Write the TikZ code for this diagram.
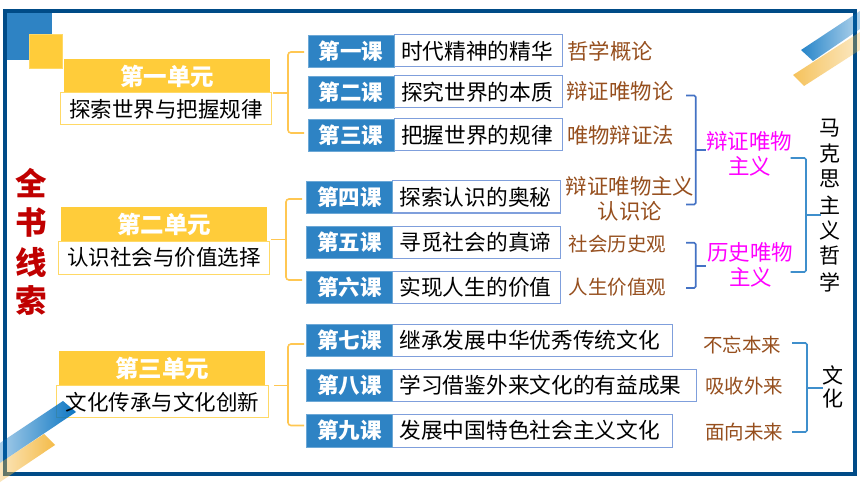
\documentclass[tikz,border=0pt]{standalone}
\usepackage{fontspec}
\setmainfont{Noto Sans CJK SC}
\usetikzlibrary{fadings}
\definecolor{frameblue}{HTML}{004B87}
\definecolor{lessonblue}{HTML}{2E83C4}
\definecolor{unityellow}{HTML}{FFCC3A}
\definecolor{edgeyellow}{HTML}{FFD966}
\definecolor{edgeblue}{HTML}{7F9FDC}
\definecolor{brownt}{HTML}{964F1E}
\definecolor{darkred}{HTML}{C00000}
\definecolor{bracketA}{HTML}{4472C4}
\definecolor{bracketB}{HTML}{3F8FCC}
\definecolor{stripblue}{HTML}{0070C0}
\definecolor{stripyellow}{HTML}{F4B83F}
\definecolor{puremagenta}{HTML}{FF00FF}
\tikzfading[name=fadeeast,left color=transparent!15,right color=transparent!70]
\tikzfading[name=fadewest,right color=transparent!5,left color=transparent!65]
\newcommand{\fs}[1]{\fontsize{#1}{#1}\selectfont}
\tikzset{
  x=1pt,y=-1pt,
  every node/.style={inner sep=0pt,outer sep=0pt},
  bluehead/.style={fill=lessonblue,draw=lessonblue!70!white,line width=.6pt,text=white,font=\fs{21.5}\bfseries},
  whitebody/.style={fill=white,draw=edgeblue,line width=1pt,text=black,font=\fs{21.7},align=left},
  unithead/.style={fill=unityellow,text=white,font=\fs{23.5}\bfseries},
  unitbody/.style={fill=white,draw=edgeyellow,line width=1pt,text=black,font=\fs{21.5}},
  browntext/.style={text=brownt,font=\fs{21.4},align=center},
  brownmid/.style={text=brownt,font=\fs{19.5},align=center},
  brownsmall/.style={text=brownt,font=\fs{19.5},align=center},
  magentatext/.style={text=puremagenta,font=\fs{21.5},align=center},
  sidetext/.style={text=black,font=\fs{21},align=center},
  redtext/.style={text=darkred,font=\fs{31.5}\bfseries},
  ybrack/.style={draw=edgeyellow!80!orange,line width=1.6pt,rounded corners=3pt},
  abrack/.style={draw=bracketA,line width=1.6pt,rounded corners=1.5pt},
  bbrack/.style={draw=bracketB,line width=1.6pt,rounded corners=1.5pt},
}
% name, xl, xm, xr, yt, yb, head, body
\newcommand{\lesson}[8]{%
  \pgfmathsetmacro{\hcx}{(#2+#3)/2}\pgfmathsetmacro{\hw}{#3-#2}
  \pgfmathsetmacro{\bcx}{(#3+#4)/2}\pgfmathsetmacro{\bw}{#4-#3}
  \pgfmathsetmacro{\cy}{(#5+#6)/2}\pgfmathsetmacro{\hh}{#6-#5}
  \node[whitebody,text width=\bw pt,minimum height=\hh pt] (#1b) at (\bcx,\cy) {\hspace*{7pt}\raisebox{-1.5pt}{#8}};
  \node[bluehead,minimum width=\hw pt,minimum height=\hh pt] (#1h) at (\hcx,\cy) {\raisebox{-1.5pt}{#7}};
}
\begin{document}
\begin{tikzpicture}
\useasboundingbox (0,0) rectangle (860,484);
\fill[white] (0,0) rectangle (860,484);
\draw[frameblue,line width=4pt] (5,11) rectangle (855,473.5);
% corner squares
\fill[lessonblue] (7,13) rectangle (52,60);
\fill[unityellow,draw=edgeyellow,line width=.6pt] (29,34) rectangle (62,68);

% unit 1
\node[unithead,minimum width=206pt,minimum height=34pt] (u1h) at (167,76) {\raisebox{-.7pt}{第一单元}};
\node[unitbody,minimum width=211.5pt,minimum height=32pt] (u1b) at (166.2,109) {\raisebox{-1.5pt}{探索世界与把握规律}};
% unit 2
\node[unithead,minimum width=206pt,minimum height=34pt] (u2h) at (164,224) {\raisebox{-.7pt}{第二单元}};
\node[unitbody,minimum width=211.5pt,minimum height=33pt] (u2b) at (164.2,257.5) {\raisebox{-1pt}{认识社会与价值选择}};
% unit 3
\node[unithead,minimum width=206pt,minimum height=34pt] (u3h) at (162,368) {\raisebox{-.7pt}{第三单元}};
\node[unitbody,minimum width=212pt,minimum height=32pt] (u3b) at (162,401) {};

% ribbons, top right
\fill[stripblue,path fading=fadeeast] (801,50) -- (813,61) -- (860,29) -- (860,11) -- cycle;
\fill[stripyellow,path fading=fadeeast] (793,75) -- (804,86) -- (860,50) -- (860,32) -- cycle;
% ribbons, bottom left
\fill[stripblue,path fading=fadewest] (63,401) -- (76,412) -- (0,463) -- (0,443) -- cycle;
\fill[stripyellow,path fading=fadewest] (44,434) -- (55,445) -- (0,482) -- (0,463) -- cycle;
\node[text=black,font=\fs{21.5}] (u3t) at (162.5,402.5) {文化传承与文化创新};

% lessons
\lesson{l1}{308}{394}{562}{35}{67}{第一课}{时代精神的精华}
\lesson{l2}{308}{394}{562}{76}{108}{第二课}{探究世界的本质}
\lesson{l3}{308}{394}{562}{119}{151}{第三课}{把握世界的规律}
\lesson{l4}{306.7}{392.5}{560}{181}{213}{第四课}{探索认识的奥秘}
\lesson{l5}{306.7}{392.5}{560}{226}{258}{第五课}{寻觅社会的真谛}
\lesson{l6}{306.7}{392.5}{560}{271}{303}{第六课}{实现人生的价值}
\lesson{l7}{306.7}{392.5}{672}{324}{356}{第七课}{继承发展中华优秀传统文化}
\lesson{l8}{306.7}{392.5}{696}{369}{401}{第八课}{学习借鉴外来文化的有益成果}
\lesson{l9}{306.7}{392.5}{672}{414}{447}{第九课}{发展中国特色社会主义文化}

% yellow brackets
\coordinate (y1t) at (304,52); \coordinate (y1b) at (304,133); \coordinate (y1s) at (273,93);
\draw[ybrack] (y1t) -- (288,52) -- (288,133) -- (y1b);
\draw[ybrack] (y1s) -- (288,93);
\coordinate (y2t) at (302,199); \coordinate (y2b) at (302,280); \coordinate (y2s) at (271,239.5);
\draw[ybrack] (y2t) -- (286,199) -- (286,280) -- (y2b);
\draw[ybrack] (y2s) -- (286,239.5);
\coordinate (y3t) at (304,344); \coordinate (y3b) at (304,425.5); \coordinate (y3s) at (274,385.5);
\draw[ybrack] (y3t) -- (288,344) -- (288,425.5) -- (y3b);
\draw[ybrack] (y3s) -- (288,385.5);

% brown labels
\node[browntext] (t1) at (610,51.5) {哲学概论};
\node[browntext] (t2) at (620,91.5) {辩证唯物论};
\node[browntext] (t3) at (620.5,135.5) {唯物辩证法};
\node[browntext] (t4) at (630,186) {辩证唯物主义};
\node[browntext] (t4b) at (630,211) {认识论};
\node[brownmid] (t5) at (617.5,244) {社会历史观};
\node[brownmid] (t6) at (617.5,287.5) {人生价值观};
\node[brownsmall] (t7) at (742,345) {不忘本来};
\node[brownsmall] (t8) at (744,386) {吸收外来};
\node[brownsmall] (t9) at (744,432.5) {面向未来};

% magenta labels
\node[magentatext] (m1) at (749,141.5) {辩证唯物};
\node[magentatext] (m1b) at (749.5,166) {主义};
\node[magentatext] (m2) at (750,252) {历史唯物};
\node[magentatext] (m2b) at (750.5,277) {主义};

% blue brackets
\coordinate (a1t) at (686,95.5); \coordinate (a1b) at (686,204.5); \coordinate (a1s) at (706,150);
\draw[abrack] (a1t) -- (695.7,95.5) -- (695.7,204.5) -- (a1b);
\draw[abrack] (695.7,150) -- (a1s);
\coordinate (a2t) at (686,242.7); \coordinate (a2b) at (686,288); \coordinate (a2s) at (706,265.7);
\draw[abrack] (a2t) -- (695.7,242.7) -- (695.7,288) -- (a2b);
\draw[abrack] (695.7,265.7) -- (a2s);
\coordinate (b1t) at (790.7,158); \coordinate (b1b) at (790.7,272); \coordinate (b1s) at (821,215);
\draw[bbrack] (b1t) -- (806,158) -- (806,272) -- (b1b);
\draw[bbrack] (806,215) -- (b1s);
\coordinate (b2t) at (792,343); \coordinate (b2b) at (792,432); \coordinate (b2s) at (823,388);
\draw[bbrack] (b2t) -- (807,343) -- (807,432) -- (b2b);
\draw[bbrack] (807,388) -- (b2s);

% side texts
\node[redtext] (r1) at (31.5,183.5) {全};
\node[redtext] (r2) at (31.5,222.5) {书};
\node[redtext] (r3) at (31.5,262) {线};
\node[redtext] (r4) at (31.5,300.5) {索};
\node[sidetext] (s1) at (830,128) {马};
\node[sidetext] (s2) at (830,153.5) {克};
\node[sidetext] (s3) at (830,179) {思};
\node[sidetext] (s4) at (830,205) {主};
\node[sidetext] (s5) at (830,230.5) {义};
\node[sidetext] (s6) at (830,256) {哲};
\node[sidetext] (s7) at (830,282) {学};
\node[sidetext] (c1) at (833,375) {文};
\node[sidetext] (c2) at (833,398.5) {化};
\end{tikzpicture}
\end{document}
